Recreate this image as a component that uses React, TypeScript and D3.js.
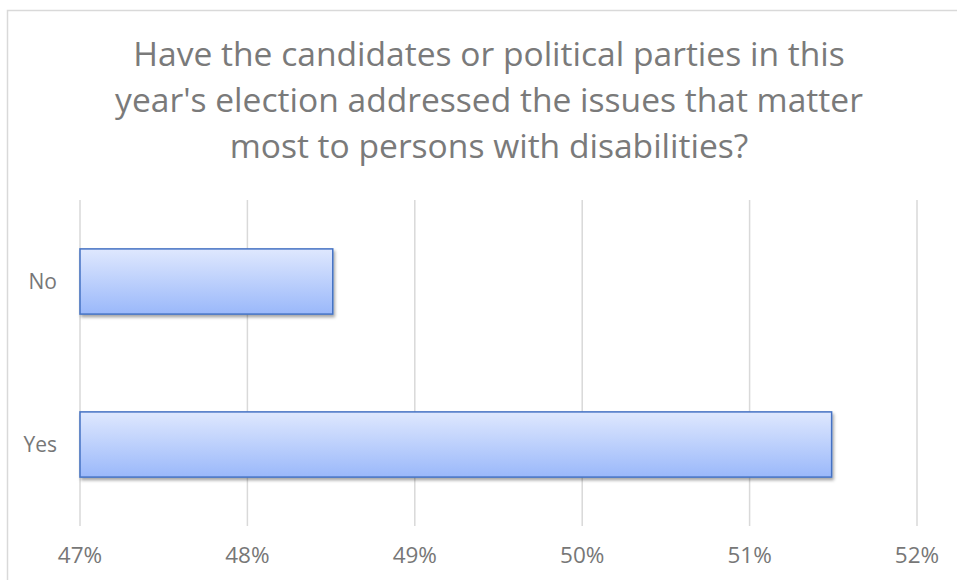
import React from "react";
import * as d3 from "d3";

const categories = ["No", "Yes"];
const values = [48.51, 51.49];
const xTicks = [47, 48, 49, 50, 51, 52];
const titleLines = [
  "Have the candidates or political parties in this",
  "year's election addressed the issues that matter",
  "most to persons with disabilities?",
];

const W = 957;
const H = 580;
const plot = { left: 80, right: 917, top: 200, bottom: 526 };

export default function App() {
  const x = d3.scaleLinear().domain([47, 52]).range([plot.left, plot.right]);
  const y = d3
    .scaleBand<string>()
    .domain(categories)
    .range([plot.top, plot.bottom])
    .paddingInner(0.6)
    .paddingOuter(0.3);
  const font = "'Open Sans', Lato, sans-serif";
  return (
    <svg
      width={W}
      height={H}
      style={{ position: "absolute", left: 0, top: 0, background: "#fff" }}
    >
      <defs>
        <linearGradient id="barGrad" x1="0" y1="0" x2="0" y2="1">
          <stop offset="0%" stopColor="#dfe8fe" />
          <stop offset="100%" stopColor="#9ab8fa" />
        </linearGradient>
        <filter id="shadow" x="-5%" y="-20%" width="110%" height="150%">
          <feDropShadow dx="1.5" dy="2.5" stdDeviation="1.8" floodColor="#000" floodOpacity="0.35" />
        </filter>
      </defs>
      <rect x={7.5} y={10.5} width={W + 20} height={H + 20} fill="#fff" stroke="#d9d9d9" strokeWidth={1.5} />
      {titleLines.map((t, i) => (
        <text
          key={i}
          x={489}
          y={66 + i * 46}
          textAnchor="middle"
          fontFamily={font}
          fontSize={33.6}
          fill="#7a7a7a"
        >
          {t}
        </text>
      ))}
      {xTicks.map((t) => (
        <g key={t}>
          <line x1={x(t)} x2={x(t)} y1={plot.top} y2={plot.bottom} stroke="#d9d9d9" strokeWidth={1.5} />
          <text
            x={x(t)}
            y={563}
            textAnchor="middle"
            fontFamily={font}
            fontSize={22.5}
            fill="#777"
          >
            {t}%
          </text>
        </g>
      ))}
      {categories.map((c, i) => (
        <g key={c}>
          <rect
            x={x(47)}
            y={y(c)!}
            width={x(values[i]) - x(47)}
            height={y.bandwidth()}
            fill="url(#barGrad)"
            stroke="#4472c4"
            strokeWidth={1.5}
            filter="url(#shadow)"
          />
          <text
            x={57}
            y={y(c)! + y.bandwidth() / 2}
            dy="0.35em"
            textAnchor="end"
            fontFamily={font}
            fontSize={21}
            fill="#777"
          >
            {c}
          </text>
        </g>
      ))}
    </svg>
  );
}
